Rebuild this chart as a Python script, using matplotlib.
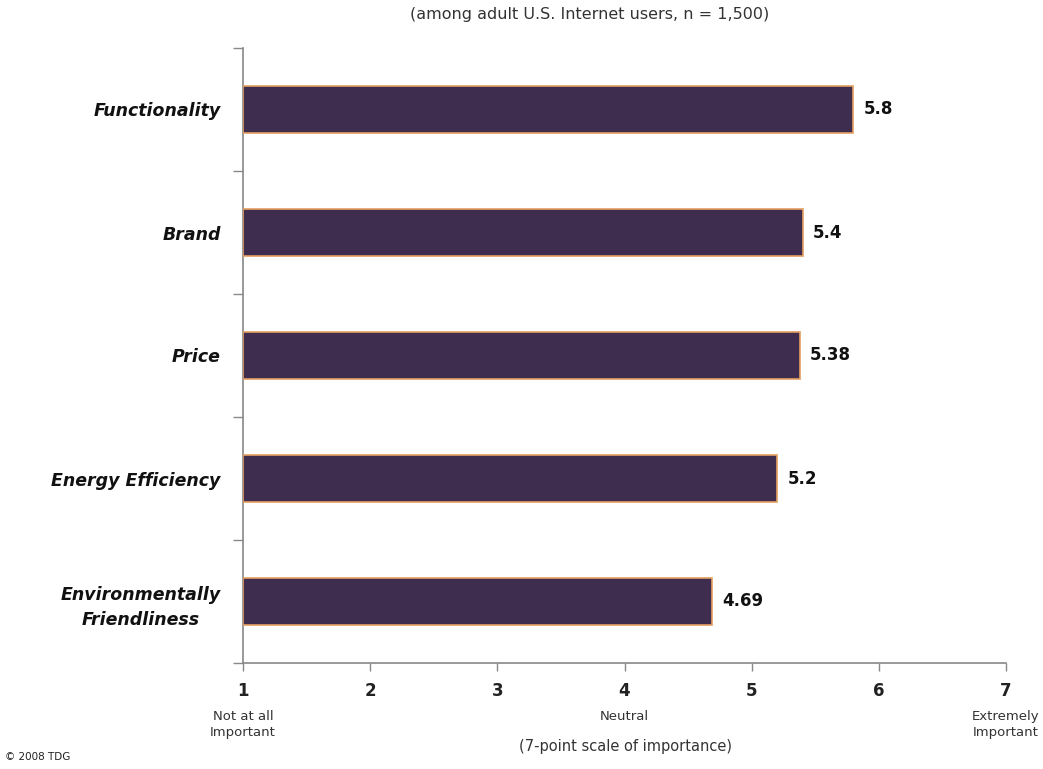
import matplotlib
matplotlib.use("Agg")
import matplotlib.pyplot as plt

categories = ["Functionality", "Brand", "Price", "Energy Efficiency", "Environmentally\nFriendliness"]
values = [5.8, 5.4, 5.38, 5.2, 4.69]
value_labels = ["5.8", "5.4", "5.38", "5.2", "4.69"]
x_ticks = [1, 2, 3, 4, 5, 6, 7]
x_sublabels = {1: "Not at all\nImportant", 4: "Neutral", 7: "Extremely\nImportant"}

plt.rcParams['font.family'] = ['DejaVu Sans']

fig = plt.figure(figsize=(10.43, 7.69), dpi=100)
ax = fig.add_axes([243/1043, 1-663/769, (1006-243)/1043, (663-48)/769])

ypos = list(range(len(categories)))[::-1]
ax.barh(ypos, [v - 1 for v in values], left=1, height=0.39,
        color="#3f2d50", edgecolor="#e4a062", linewidth=1.2, zorder=3)

for y, v, lab in zip(ypos, values, value_labels):
    ax.text(v + 0.08, y, lab, va="center", ha="left", fontsize=12,
            fontweight="bold", color="#111111")

ax.set_xlim(1, 7)
ax.set_ylim(-0.5, len(categories) - 0.5)
ax.set_xticks(x_ticks)
ax.set_xticklabels([str(t) for t in x_ticks], fontsize=12, fontweight="bold", color="#222222")
ax.tick_params(axis="x", length=6, width=1, color="#888888", pad=8)

ax.set_yticks(ypos)
ax.set_yticklabels(categories, fontsize=12.5, fontweight="bold", fontstyle="italic",
                   color="#111111", ha="right")
for t in ax.get_yticklabels():
    t.set_multialignment("center")
    t.set_linespacing(1.55)
ax.tick_params(axis="y", length=0, pad=16)
ax.set_yticks([i - 0.5 for i in range(len(categories) + 1)], minor=True)
ax.tick_params(axis="y", which="minor", length=7, width=1, color="#888888")

for s in ["top", "right"]:
    ax.spines[s].set_visible(False)
for s in ["left", "bottom"]:
    ax.spines[s].set_color("#888888")
    ax.spines[s].set_linewidth(1.2)

for t, txt in x_sublabels.items():
    ax.annotate(txt, xy=(t, 0), xycoords=("data", "axes fraction"),
                xytext=(0, -34), textcoords="offset points", ha="center", va="top",
                fontsize=9.5, color="#333333", linespacing=1.3)

fig.text(625/1043, 1-747/769, "(7-point scale of importance)", ha="center", va="center",
         fontsize=10.5, color="#333333")
fig.text(590/1043, 1-15/769, "(among adult U.S. Internet users, n = 1,500)", ha="center",
         va="center", fontsize=11.5, color="#333333")
fig.text(5/1043, 1-757/769, "© 2008 TDG", ha="left", va="center", fontsize=7.5, color="#222222")

fig.savefig("out.png", dpi=100, facecolor="white")
